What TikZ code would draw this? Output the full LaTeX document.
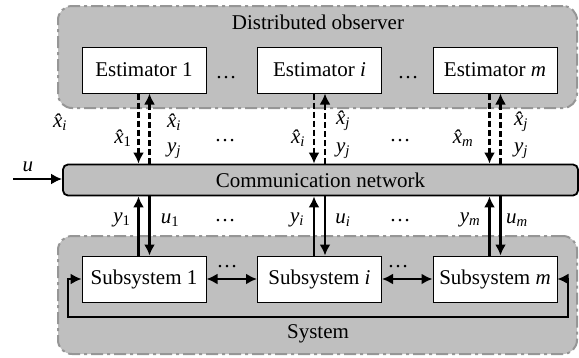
\documentclass[tikz,border=0pt]{standalone}
\usepackage{fontspec}
\setmainfont{Liberation Serif}
\usetikzlibrary{arrows.meta}
\definecolor{grayfill}{RGB}{191,191,191}
\definecolor{grayborder}{RGB}{150,150,150}
\newcommand\xh[1]{{\itshape\^{x}}\textsubscript{#1}}
\begin{document}
\begin{tikzpicture}[x=1pt,y=-1pt,font=\fontsize{21}{24}\selectfont,
  group/.style={draw=grayborder,fill=grayfill,line width=2pt,
    dash pattern=on 12pt off 4pt on 3pt off 4pt,rounded corners=14pt,
    minimum width=519pt,inner sep=0pt},
  block/.style={draw,fill=white,line width=1pt,minimum width=124pt,
    minimum height=46pt,inner sep=0pt},
  net/.style={draw,fill=grayfill,line width=1.8pt,rounded corners=5pt,
    minimum width=515pt,minimum height=31pt,inner sep=0pt},
  arr/.style={line width=2.8pt,-{Latex[length=11pt,width=11pt]}},
  biarr/.style={line width=2.8pt,{Latex[length=11pt,width=11pt]}-{Latex[length=11pt,width=11pt]}},
  darr/.style={arr,dash pattern=on 6pt off 3pt},
  lbl/.style={inner sep=0pt,font=\fontsize{21}{23}\selectfont},
  dots/.style={inner sep=0pt}]
\useasboundingbox (0,0) rectangle (579,357);
% groups
\node[group,minimum height=102pt] (obs) at (317.5,57) {};
\node[group,minimum height=118pt] (sys) at (317.5,295) {};
\node (obsl) at (318,22) {Distributed observer};
\node (sysl) at (318,334) {System};
% estimators
\node[block] (e1) at (144,70) {Estimator 1};
\node[block] (ei) at (319.5,70) {Estimator \textit{i}};
\node[block] (em) at (495,70) {Estimator \textit{m}};
\node[dots] (d1) at (226,78) {\ldots};
\node[dots] (d2) at (408,78) {\ldots};
% network
\node[net] (net) at (320.5,180) {Communication network};
% subsystems
\node[block] (s1) at (144,279) {Subsystem 1};
\node[block] (si) at (319.5,279) {Subsystem \textit{i}};
\node[block] (sm) at (495,279) {Subsystem \textit{m}};
% estimator arrows
\foreach \n in {e1,ei,em}{
  \draw[darr] ([xshift=-5.5pt]\n.south) -- ([xshift=-5.5pt]\n.south |- net.north);
  \draw[darr] ([xshift=5.5pt]\n.south |- net.north) -- ([xshift=5.5pt]\n.south);
}
% subsystem arrows
\foreach \n in {s1,si,sm}{
  \draw[arr] ([xshift=-5.5pt]\n.north) -- ([xshift=-5.5pt]\n.north |- net.south);
  \draw[arr] ([xshift=5.5pt]\n.north |- net.south) -- ([xshift=5.5pt]\n.north);
}
% input u
\coordinate (uin) at (13,179);
\draw[arr] (uin) -- (uin -| net.west);
\node[lbl] (ul) at (28,167) {\textit{u}};
% labels upper
\node[lbl] (l0) at (60,122) {\xh{\textit{i}}};
\node[lbl] (l1) at (123,138) {\xh{1}};
\node[lbl] (l2) at (174,122) {\xh{\textit{i}}};
\node[lbl] (l3) at (174,151) {\textit{y}\textsubscript{\textit{j}}};
\node[lbl] (l4) at (298,138) {\xh{\textit{i}}};
\node[lbl] (l5) at (343,121) {\xh{\textit{j}}};
\node[lbl] (l6) at (343,151) {\textit{y}\textsubscript{\textit{j}}};
\node[lbl] (l7) at (463,138) {\xh{\textit{m}}};
\node[lbl] (l8) at (521,122) {\xh{\textit{j}}};
\node[lbl] (l9) at (521,151) {\textit{y}\textsubscript{\textit{j}}};
\node[dots] (d3) at (225,141) {\ldots};
\node[dots] (d4) at (400,141) {\ldots};
% labels lower
\node[lbl] (b1) at (122,220) {\textit{y}\textsubscript{1}};
\node[lbl] (b2) at (170,220) {\textit{u}\textsubscript{1}};
\node[lbl] (b3) at (297,220) {\textit{y}\textsubscript{\textit{i}}};
\node[lbl] (b4) at (343,220) {\textit{u}\textsubscript{\textit{i}}};
\node[lbl] (b5) at (470,220) {\textit{y}\textsubscript{\textit{m}}};
\node[lbl] (b6) at (517,220) {\textit{u}\textsubscript{\textit{m}}};
\node[dots] (d5) at (225,221) {\ldots};
\node[dots] (d6) at (400,221) {\ldots};
% subsystem couplings
\draw[biarr] (s1.east) -- (si.west);
\draw[biarr] (si.east) -- (sm.west);
\node[dots] (d7) at (227,267) {\ldots};
\node[dots] (d8) at (398,267) {\ldots};
% feedback loop
\coordinate (fbL) at (68,317);
\coordinate (fbR) at (568,317);
\draw[biarr,line width=1.8pt] (s1.west) -| (fbL) -- (fbR) |- (sm.east);
\end{tikzpicture}
\end{document}
